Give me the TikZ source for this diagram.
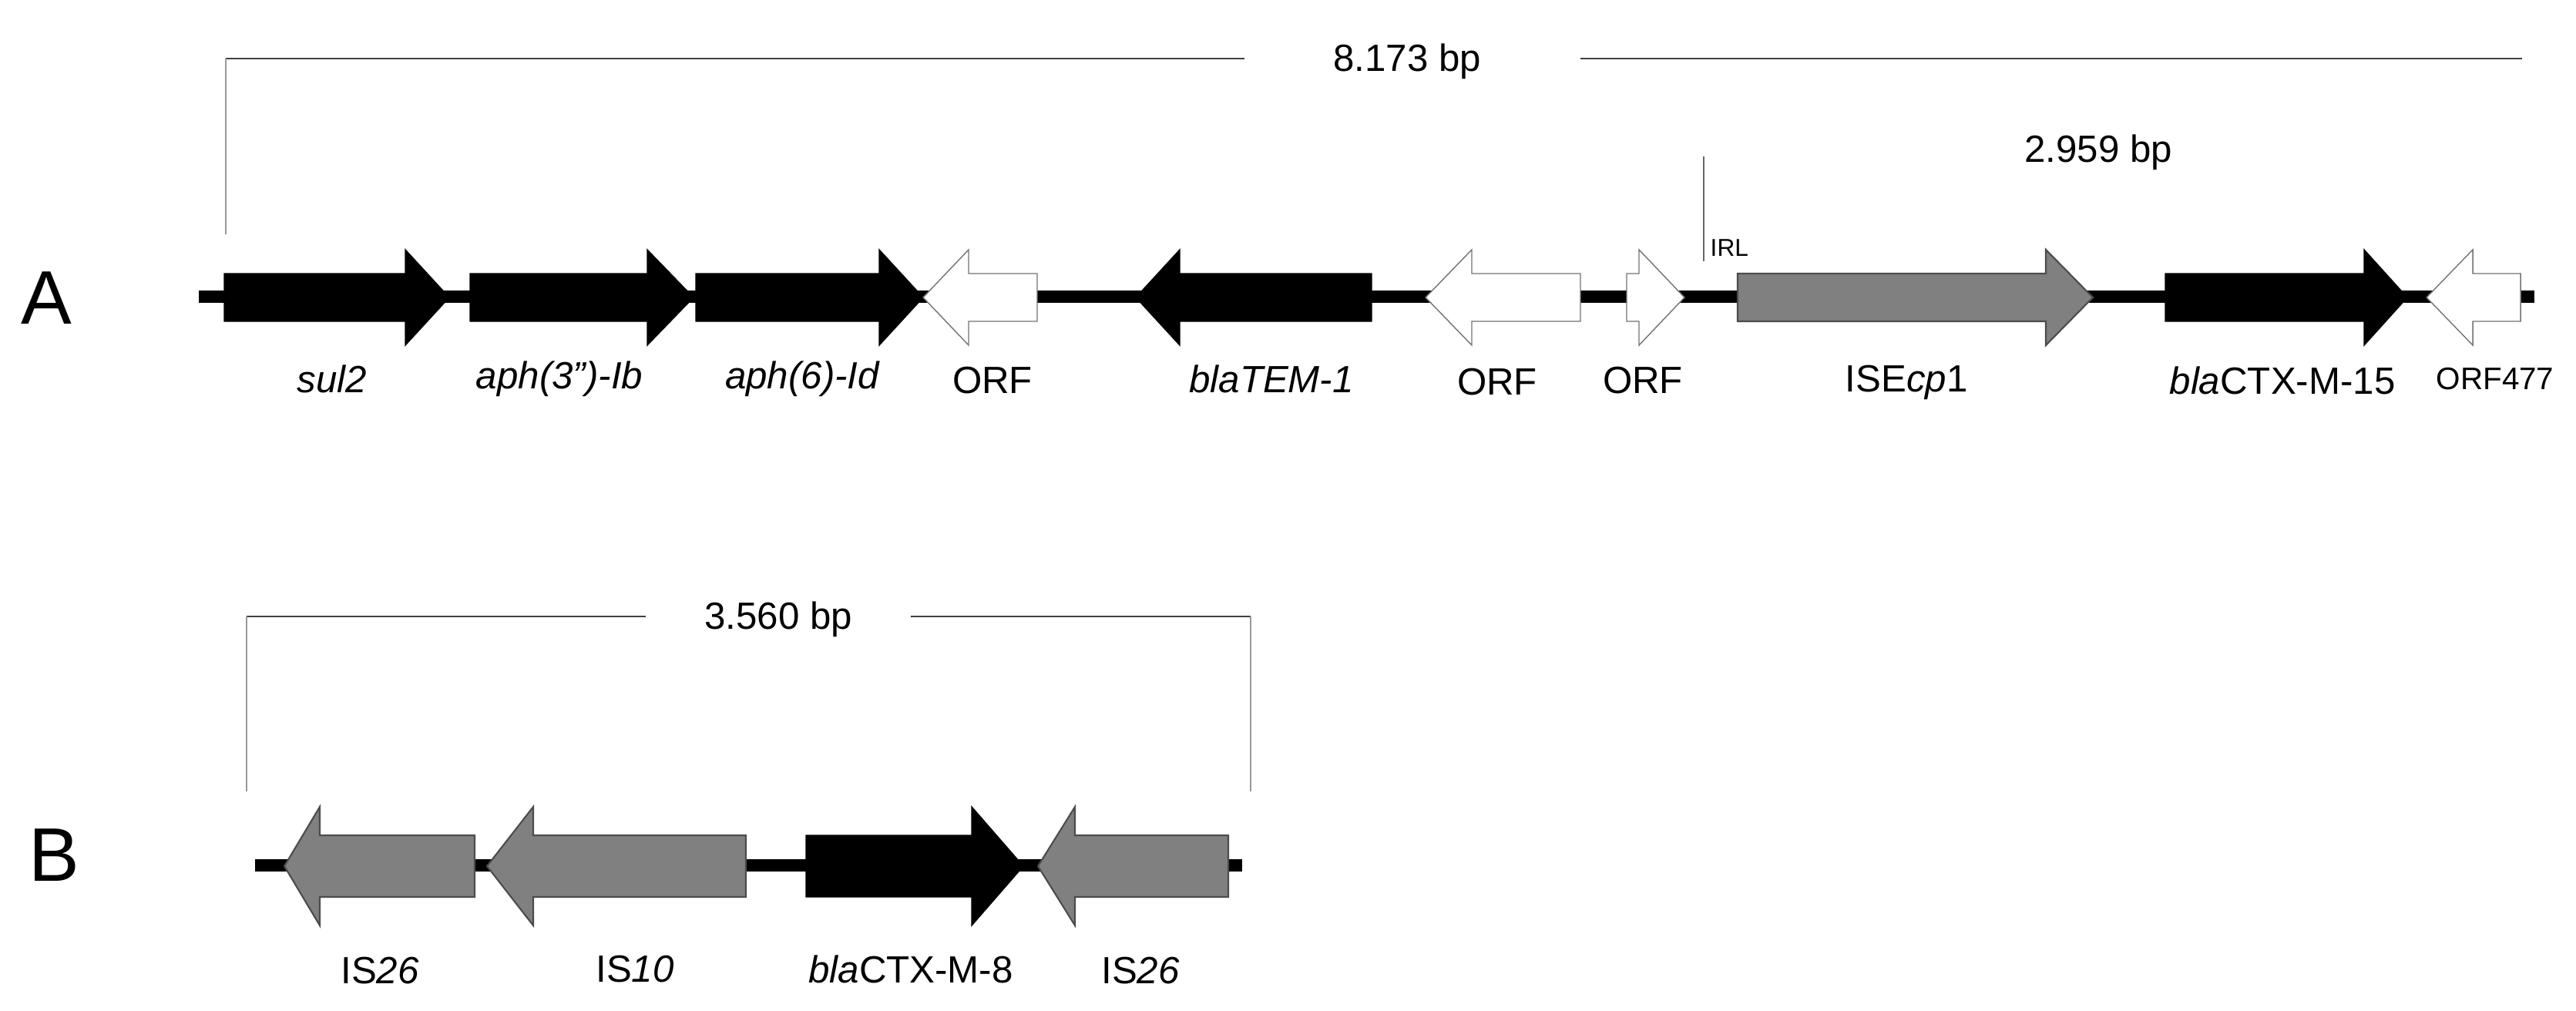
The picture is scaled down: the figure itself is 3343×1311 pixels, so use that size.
\documentclass[tikz,border=0pt]{standalone}
\usepackage{fontspec}
\setmainfont{Liberation Sans}
\newcommand\genearrow[7]{% x0, xbase, xtip, yc, body half, head half, style
  \filldraw[#7] (#1,#4-#5) -- (#2,#4-#5) -- (#2,#4-#6) -- (#3,#4) -- (#2,#4+#6) -- (#2,#4+#5) -- (#1,#4+#5) -- cycle;}
\begin{document}
\begin{tikzpicture}[x=0.01cm,y=-0.01cm,
  blk/.style={fill=black,draw=black,line width=0.4pt},
  wht/.style={fill=white,draw=black!55,line width=0.4pt},
  gry/.style={fill=black!50,draw=black!70,line width=0.6pt},
  lab/.style={font=\fontsize{14}{16}\selectfont,inner sep=0pt},
  big/.style={font=\fontsize{28}{30}\selectfont,inner sep=0pt},
  bb/.style={line width=0.16cm},
  brk/.style={draw=black!75,line width=0.7pt},
  tick/.style={draw=black!40,line width=0.5pt}]
\useasboundingbox (0,0) rectangle (3343,1311);
% ---------- Row A ----------
\node[big] (A) at (60,387) {A};
\coordinate (a0) at (258,385); \coordinate (a1) at (3289,385);
\draw[bb] (a0) -- (a1);
\genearrow{291}{526}{583}{386}{31}{62}{blk}
\genearrow{610}{840}{900}{386}{31}{62}{blk}
\genearrow{903}{1141}{1198}{386}{31}{62}{blk}
\genearrow{1346}{1257}{1198}{386}{31}{62}{wht}
\genearrow{1780}{1531}{1474}{386}{31}{62}{blk}
\genearrow{2051}{1910}{1850}{386}{31}{62}{wht}
\genearrow{2111}{2127}{2186}{386}{31}{62}{wht}
\genearrow{2255}{2655}{2716}{386}{31}{62}{gry}
\genearrow{2810}{3068}{3124}{386}{31}{62}{blk}
\genearrow{3271}{3209}{3149}{386}{31}{62}{wht}
% bracket 8.173
\node[lab] (bpA) at (1826,80) {8.173 bp};
\draw[brk] (293,76) -- (1615,76);
\draw[brk] (2051,76) -- (3273,76);
\draw[tick] (293,76) -- (293,304);
% IRL
\draw[tick,draw=black!60] (2211,203) -- (2211,339);
\node[font=\fontsize{9}{10}\selectfont,inner sep=0pt,anchor=west] (irl) at (2219,322) {IRL};
\node[lab] (bpA2) at (2723,198) {2.959 bp};
% labels A
\node[lab] at (431,492) {\itshape sul2};
\node[lab] at (726,492) {\itshape aph(3'')-Ib};
\node[lab] at (1041,492) {\itshape aph(6)-Id};
\node[lab] at (1288,494) {ORF};
\node[lab] at (1650,492) {\itshape blaTEM-1};
\node[lab] at (1943,496) {ORF};
\node[lab] at (2132,494) {ORF};
\node[lab] at (2474,496) {ISE\textit{cp}1};
\node[lab] at (2962,494) {\textit{bla}CTX-M-15};
\node[font=\fontsize{11.5}{13}\selectfont,inner sep=0pt] at (3238,492) {ORF477};
% ---------- Row B ----------
\node[big] (B) at (70,1110) {B};
\draw[brk] (320,800) -- (838,800);
\draw[brk] (1182,800) -- (1623,800);
\node[lab] (bpB) at (1010,804) {3.560 bp};
\draw[tick] (320,800) -- (320,1027);
\draw[tick] (1623,800) -- (1623,1027);
\coordinate (b0) at (331,1123); \coordinate (b1) at (1612,1123);
\draw[bb] (b0) -- (b1);
\genearrow{616}{415}{369}{1124}{40}{77}{gry}
\genearrow{968}{692}{632}{1124}{40}{77}{gry}
\genearrow{1046}{1261}{1328}{1124}{40}{77}{blk}
\genearrow{1594}{1395}{1347}{1124}{40}{77}{gry}
\node[lab] at (493,1260) {IS\textit{26}};
\node[lab] at (824,1258) {IS\textit{10}};
\node[lab] at (1182,1258) {\textit{bla}CTX-M-8};
\node[lab] at (1480,1260) {IS\textit{26}};
\end{tikzpicture}
\end{document}
